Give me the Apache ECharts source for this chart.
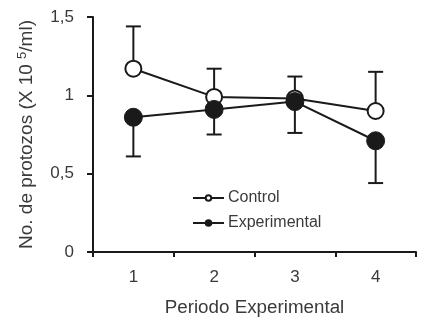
<!DOCTYPE html>
<html><head><meta charset="utf-8">
<script src="https://cdn.jsdelivr.net/npm/echarts@6/dist/echarts.min.js"></script>
<style>html,body{margin:0;padding:0;background:#fff}#c{width:424px;height:322px}</style>
</head><body><div id="c"></div>
<script>
var categories = ['1', '2', '3', '4'];
var controlMean = [1.17, 0.99, 0.98, 0.90];
var controlUpper = [1.44, 1.17, 1.12, 1.15];
var experimentalMean = [0.86, 0.91, 0.96, 0.71];
var experimentalLower = [0.61, 0.75, 0.76, 0.44];
var yTicks = ['0', '0,5', '1', '1,5'];

var ctrlErr = categories.map(function (c, i) { return [i, controlMean[i], controlUpper[i]]; });
var expErr = categories.map(function (c, i) { return [i, experimentalMean[i], experimentalLower[i]]; });

function errItem(params, api) {
  var p0 = api.coord([api.value(0), api.value(1)]);
  var p1 = api.coord([api.value(0), api.value(2)]);
  var hw = 7.5;
  var st = { stroke: '#1a1a1a', lineWidth: 2, fill: 'none' };
  return { type: 'group', children: [
    { type: 'line', shape: { x1: p0[0], y1: p0[1], x2: p1[0], y2: p1[1] }, style: st },
    { type: 'line', shape: { x1: p1[0] - hw, y1: p1[1], x2: p1[0] + hw, y2: p1[1] }, style: st }
  ]};
}

var font = 'Liberation Sans, Arial, sans-serif';
var txt = '#3a3a3a';
var chart = echarts.init(document.getElementById('c'), null, { renderer: 'canvas' });
chart.setOption({
  animation: false,
  textStyle: { fontFamily: font },
  grid: { left: 93, right: 8, top: 17, bottom: 67 },
  legend: {
    orient: 'vertical', left: 187, top: 185, itemGap: 9,
    itemWidth: 31, itemHeight: 7,
    textStyle: { fontSize: 16, lineHeight: 16, color: txt, fontFamily: font, padding: [0, 0, 0, -1] },
    data: ['Control', 'Experimental']
  },
  xAxis: {
    type: 'category', data: categories, boundaryGap: true,
    axisLine: { lineStyle: { color: '#1a1a1a', width: 2 } },
    axisTick: { show: true, length: 5, inside: false, lineStyle: { color: '#1a1a1a', width: 2 } },
    axisLabel: { fontSize: 17, color: txt, margin: 17, fontFamily: font },
    name: 'Periodo Experimental', nameLocation: 'middle', nameGap: 46,
    nameTextStyle: { fontSize: 18.8, color: txt, fontFamily: font }
  },
  yAxis: {
    type: 'value', min: 0, max: 1.5, interval: 0.5,
    splitLine: { show: false },
    axisLine: { show: true, lineStyle: { color: '#1a1a1a', width: 2 } },
    axisTick: { show: true, length: 6, lineStyle: { color: '#1a1a1a', width: 2 } },
    axisLabel: { fontSize: 17, color: txt, margin: 19, fontFamily: font,
      formatter: function (v) { return yTicks[Math.round(v / 0.5)]; } },
    name: 'No. de protozos (X 10 {sup|5}/ml)', nameLocation: 'middle', nameGap: 55,
    nameTextStyle: { fontSize: 19, color: txt, fontFamily: font,
      rich: { sup: { fontSize: 13, color: txt, verticalAlign: 'top', padding: [0, 0, 9, 0], fontFamily: font } } }
  },
  series: [
    { type: 'custom', renderItem: errItem, data: ctrlErr, z: 1, silent: true },
    { type: 'custom', renderItem: errItem, data: expErr, z: 1, silent: true },
    { name: 'Control', type: 'line', data: controlMean, z: 3,
      symbol: 'circle', symbolSize: 16,
      lineStyle: { color: '#1a1a1a', width: 2 },
      itemStyle: { color: '#fff', borderColor: '#1a1a1a', borderWidth: 2 } },
    { name: 'Experimental', type: 'line', data: experimentalMean, z: 4,
      symbol: 'circle', symbolSize: 18,
      lineStyle: { color: '#1a1a1a', width: 2 },
      itemStyle: { color: '#1a1a1a', borderColor: '#1a1a1a', borderWidth: 1 } }
  ]
});
</script></body></html>
